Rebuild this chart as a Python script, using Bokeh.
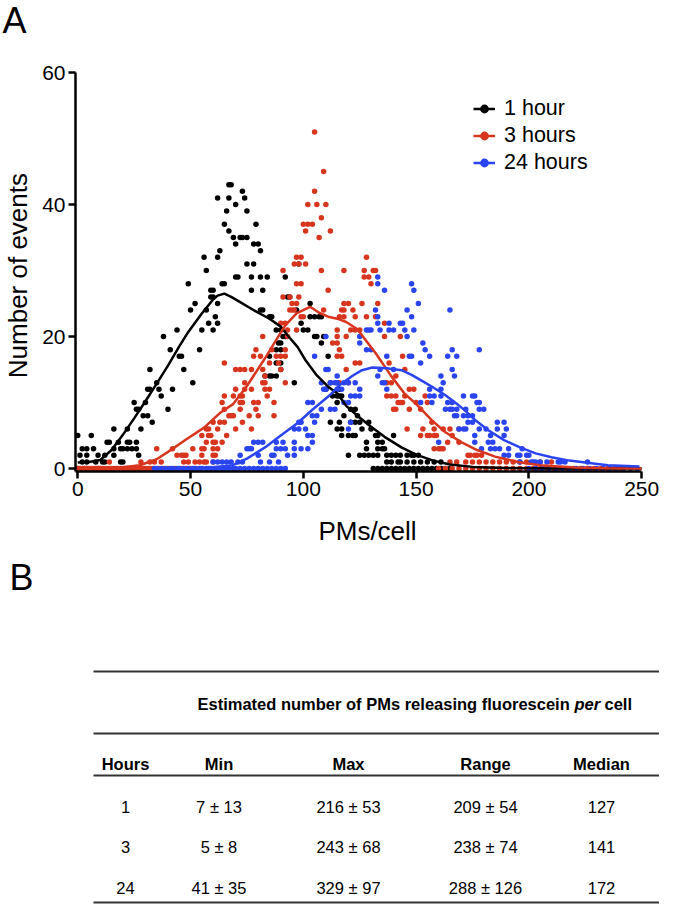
from bokeh.plotting import figure
from bokeh.models import Range1d, Legend, LegendItem, FixedTicker
from bokeh.embed import file_html
from bokeh.resources import INLINE
from bokeh.core.properties import value

FONT = "Liberation Sans"
BLACK = "#000000"
RED = "#D8351F"
BLUE = "#2A44F0"

# ---------------- data: panel A ----------------
series_names = ["1 hour", "3 hours", "24 hours"]
x_ticks = [0, 50, 100, 150, 200, 250]
y_ticks = [0, 20, 40, 60]

black_points = [
    (0, 5), (6, 5), (2, 3), (4, 3), (7, 3), (16, 3), (19, 3), (20, 3), (22, 3), (24, 3), (26, 3),
    (13, 4), (14, 4), (18, 4), (22, 4), (23, 4), (26, 4),
    (1, 2), (4, 2), (9, 2), (12, 2), (16, 2), (27, 2),
    (2, 1), (4, 1), (8, 1), (11, 1), (12, 1), (19, 1), (20, 1),
    (16, 6), (22, 6), (28, 6),
    (25, 10), (26, 9), (27, 9), (29, 8), (31, 8), (30, 10), (31, 12), (32, 12), (32, 15), (33, 7),
    (35, 13), (36, 12), (37, 11), (38, 20), (40, 9), (41, 18), (42, 12), (44, 21), (45, 17), (46, 17),
    (47, 15), (49, 28), (50, 24), (51, 13), (52, 25), (54, 18), (55, 21), (56, 32), (57, 30), (57, 24),
    (58, 22), (59, 27), (60, 27), (59, 26), (60, 26), (60, 21), (61, 23), (62, 22), (62, 25), (62, 41),
    (62, 32), (63, 33), (64, 28), (65, 37), (66, 39), (67, 43), (68, 43), (67, 41), (70, 40), (67, 36),
    (69, 35), (72, 35), (73, 35), (75, 35), (70, 34), (73, 42), (74, 41), (75, 39), (79, 37), (78, 34),
    (80, 34), (81, 33), (75, 31), (78, 31), (65, 28), (71, 29), (70, 29), (77, 29), (81, 29), (84, 29),
    (77, 27), (82, 27), (81, 24), (82, 24), (85, 23), (86, 23), (88, 21), (90, 21), (91, 20), (92, 20),
    (89, 19), (90, 19), (88, 18), (90, 18), (85, 17), (88, 16), (90, 16), (90, 15), (83, 14), (85, 14),
    (86, 14), (88, 14), (96, 13), (92, 29), (93, 26), (94, 26), (97, 24), (98, 31), (99, 22), (100, 21),
    (102, 21), (103, 25), (103, 23), (105, 23), (105, 20), (106, 20), (107, 23), (108, 23), (108, 19),
    (109, 20), (111, 17), (112, 13), (110, 12), (113, 11), (115, 11), (116, 11), (117, 11), (112, 7),
    (115, 6), (117, 6), (117, 5), (115, 13), (116, 12), (115, 10), (118, 8), (116, 7), (121, 9), (123, 9),
    (124, 8), (121, 7), (123, 7), (125, 7), (129, 7), (120, 5), (122, 5), (123, 5), (126, 6), (130, 6),
    (132, 5), (133, 5), (140, 5), (128, 4), (133, 4), (135, 4), (128, 3), (133, 3), (135, 3), (136, 3),
    (120, 2), (125, 2), (127, 2), (129, 2), (131, 2), (133, 2), (137, 2), (139, 2), (141, 2), (143, 2),
    (146, 2), (148, 2), (149, 2), (151, 2),
    (137, 1), (139, 1), (142, 1), (143, 1), (146, 1), (149, 1), (152, 1), (155, 1), (158, 1), (161, 1),
]
black_zero_x = [0, 3, 4, 9, 10, 131, 133, 135, 137, 139, 141, 143, 145, 147, 149, 151, 153, 155,
                157, 159, 161, 163, 165]

red_points = [
    (14, 1), (28, 1), (32, 1), (34, 1), (37, 1), (35, 3), (42, 3), (44, 2), (46, 2), (47, 2), (48, 2),
    (47, 1), (49, 1), (52, 1), (54, 1), (56, 1), (57, 1), (60, 1), (51, 3), (55, 3), (56, 3), (59, 5),
    (60, 4), (61, 4), (62, 3), (58, 6), (62, 6), (60, 7), (63, 7), (57, 6), (55, 5), (58, 5), (57, 4),
    (60, 3), (55, 2), (60, 2), (61, 2),
    (65, 16), (70, 15), (72, 15), (74, 15), (77, 15), (82, 15), (90, 15), (83, 14), (74, 13), (82, 13),
    (83, 13), (92, 13), (70, 12), (74, 12), (77, 12), (83, 12), (85, 12), (65, 11), (69, 11), (72, 11),
    (73, 11), (84, 11), (64, 10), (72, 10), (73, 10), (78, 10), (80, 10), (87, 10), (65, 9), (72, 9),
    (79, 9), (67, 8), (68, 8), (69, 8), (76, 8), (80, 8), (87, 8), (65, 7), (73, 7), (70, 6), (77, 6),
    (66, 5), (64, 4),
    (79, 18), (86, 18), (92, 18), (78, 17), (81, 17), (88, 17), (90, 17), (92, 17), (85, 16), (89, 16),
    (82, 20), (93, 20), (90, 22), (92, 22), (93, 21), (97, 21), (91, 30), (91, 26), (94, 24), (95, 24),
    (96, 24), (95, 25), (97, 25), (94, 26), (98, 26), (99, 23), (100, 23), (97, 28), (99, 28), (97, 32),
    (99, 32), (96, 31), (98, 31), (101, 31), (100, 37), (102, 37), (104, 37), (101, 36), (102, 40),
    (106, 40), (110, 40), (105, 42), (109, 45), (105, 51), (108, 38), (107, 35), (112, 36), (108, 30),
    (111, 27), (109, 24), (115, 21), (113, 19),
    (128, 32), (127, 30), (131, 30), (132, 30), (118, 30), (127, 29), (129, 29), (130, 28), (133, 25),
    (120, 25), (126, 25), (118, 25), (117, 24), (122, 24), (118, 24), (116, 23), (118, 23), (123, 23),
    (128, 23), (132, 23), (121, 21), (123, 21), (125, 21), (136, 22), (115, 20), (119, 20), (136, 20),
    (143, 20), (115, 19), (116, 18), (115, 17), (117, 17), (123, 16), (125, 16), (138, 16), (144, 17),
    (119, 15), (145, 15), (116, 13), (120, 13), (137, 13), (139, 13), (141, 14), (137, 11), (139, 11),
    (141, 11), (142, 10), (145, 11), (147, 12), (149, 12), (140, 9), (141, 9), (143, 10), (144, 10),
    (147, 9), (152, 9), (150, 10), (154, 11), (155, 10), (157, 7), (158, 6), (146, 6), (155, 5), (156, 5),
    (158, 5), (159, 5), (152, 5), (153, 6), (162, 6), (165, 6), (169, 6), (166, 5), (164, 4), (169, 4),
    (158, 3), (160, 3), (161, 3), (162, 3), (173, 2), (174, 2), (176, 2), (177, 2), (179, 2),
    (165, 1), (168, 1), (172, 1), (175, 1), (178, 1), (181, 1), (184, 1), (187, 1), (190, 1), (193, 1),
    (196, 1), (199, 1), (205, 1), (210, 1),
]
red_zero_x = [0, 1, 2, 3, 4, 5, 6, 7, 8, 9, 10, 11, 12, 13, 14, 15, 16, 17, 18, 19, 20, 21, 22, 23, 24,
              25, 26, 27, 28, 29, 30, 31, 32, 33, 36, 38, 40, 43, 46, 48, 50, 53,
              160, 163, 166, 169, 172, 175, 178, 181, 184, 187, 190, 193, 196, 199, 202, 205, 208,
              211, 214, 217, 220, 223, 226, 229, 232, 235, 238, 241]

blue_points = [
    (60, 1), (62, 1), (64, 1), (66, 1), (68, 1), (71, 1), (73, 1), (81, 1), (85, 1), (89, 1),
    (72, 2), (80, 2), (86, 2), (87, 2), (93, 2), (96, 2),
    (75, 3), (76, 3), (77, 3), (88, 3), (90, 3), (92, 3), (96, 3), (99, 3), (102, 3),
    (78, 4), (80, 4), (82, 4), (88, 4), (91, 4), (96, 4), (104, 4),
    (102, 5), (104, 5), (96, 6), (98, 6), (101, 6), (98, 7), (99, 7), (105, 7), (104, 8), (106, 8),
    (108, 9), (112, 9), (114, 9), (102, 10), (104, 10),
    (108, 13), (112, 13), (114, 13), (115, 13), (109, 12), (110, 12), (117, 12), (110, 15), (111, 15),
    (105, 17), (110, 20),
    (133, 29), (133, 28), (136, 27), (148, 28), (149, 27), (151, 25), (146, 24), (148, 23), (165, 24),
    (132, 24), (133, 23),
    (128, 21), (129, 21), (130, 21), (134, 21), (138, 21), (140, 21), (145, 21), (149, 21), (133, 22),
    (138, 22), (143, 22), (144, 22),
    (125, 20), (125, 19), (128, 18), (130, 18), (146, 20), (153, 19), (154, 18), (156, 17), (147, 17),
    (148, 17), (152, 16), (164, 17), (166, 18), (168, 17), (178, 18), (137, 17),
    (115, 14), (118, 13), (120, 13), (123, 13), (115, 12), (125, 12), (133, 14), (134, 15), (140, 15),
    (135, 13), (136, 13), (137, 12), (161, 14), (162, 13), (166, 15), (167, 14),
    (156, 11), (158, 11), (161, 11), (161, 12), (152, 10), (157, 10), (164, 10), (166, 10), (156, 12),
    (171, 11), (175, 11), (177, 10),
    (163, 9), (165, 9), (166, 9), (168, 9), (172, 9), (171, 8), (173, 8), (167, 8), (168, 8), (173, 7),
    (175, 7), (169, 6), (171, 6), (172, 6), (178, 6), (160, 4), (176, 5), (176, 4),
    (125, 11), (121, 7), (120, 6), (118, 10), (120, 10), (121, 11), (123, 11),
    (176, 11), (178, 10), (178, 9), (180, 9), (175, 8), (181, 6), (186, 7), (189, 7), (186, 6), (190, 6),
    (189, 5), (183, 5), (182, 4), (184, 4),
    (183, 3), (185, 3), (187, 3), (191, 3), (197, 3), (179, 3),
    (189, 2), (191, 2), (195, 2), (196, 2), (199, 2), (200, 2),
    (196, 1), (201, 1), (202, 1), (203, 1), (205, 1), (208, 1), (213, 1), (214, 1), (216, 1), (226, 1),
]
blue_zero_x = [34, 35, 37, 39, 41, 42, 44, 45, 47, 49, 51, 52, 54, 55, 57, 58, 59, 61, 62, 64, 65, 67,
               69, 70, 72, 74, 76, 78, 80, 82, 84, 86, 88, 90, 92,
               200, 203, 206, 209, 212, 215, 218, 221, 224, 227, 230, 233, 236, 239, 242, 245, 248]

black_fit = [(0, 0.9), (5, 1.0), (10, 1.3), (15, 2.8), (20, 5.1), (25, 7.6), (30, 10.2), (34.5, 12.6),
             (40, 15.6), (45, 18.5), (49, 20.7), (55, 23.5), (60, 25.6), (62, 26.2), (65, 26.5),
             (68, 26.0), (72, 25.2), (76, 24.4), (80, 23.6), (85, 22.7), (90, 21.5), (93, 20.2),
             (97.5, 18.4), (101, 16.4), (106, 14.1), (111, 12.4), (115, 11.4), (119, 9.5), (124, 8.0),
             (129, 6.6), (136, 4.8), (143.5, 3.2), (150, 2.1), (157.6, 1.2), (165, 0.6), (175, 0.25),
             (190, 0.08), (210, 0.02), (250, 0.0)]
red_fit = [(0, 0.0), (10, 0.05), (20, 0.2), (27.5, 0.5), (35, 1.4), (41.7, 2.9), (48, 4.4), (56, 6.2),
           (63, 8.4), (69, 9.8), (75, 12.5), (83, 16.7), (88, 19.5), (92, 21.7), (97, 23.5), (103, 24.5),
           (107, 23.6), (111, 23.0), (115, 22.7), (119, 22.2), (124, 21.1), (128, 19.3), (132, 17.5),
           (139, 14.0), (145, 11.3), (150, 9.8), (157, 7.3), (163, 5.5), (170, 4.0), (177, 2.8),
           (185, 1.8), (195, 1.0), (205, 0.5), (220, 0.15), (235, 0.04), (250, 0.0)]
blue_fit = [(35, 0.0), (50, 0.05), (60, 0.2), (68.7, 0.5), (75, 1.5), (83, 3.2), (90, 5.0), (97.5, 6.9),
            (104, 8.9), (111.7, 11.1), (116, 12.6), (122, 14.1), (126, 14.9), (130.6, 15.3),
            (137, 15.2), (143.5, 14.9), (148, 14.2), (153, 13.2), (158, 12.2), (163, 11.1), (168, 9.8),
            (172, 8.7), (176, 7.4), (182, 5.8), (189, 4.3), (196, 3.2), (203, 2.3), (210, 1.7),
            (218, 1.2), (225, 0.9), (235, 0.5), (249, 0.3)]

# ---------------- data: panel B (table) ----------------
panel_letters = ["A", "B"]
table_title = "Estimated number of PMs releasing fluorescein"
table_title_italic = "per"
table_title_end = "cell"
headers = ["Hours", "Min", "Max", "Range", "Median"]
hours = ["1", "3", "24"]
mins = ["7 ± 13", "5 ± 8", "41 ± 35"]
maxs = ["216 ± 53", "243 ± 68", "329 ± 97"]
ranges = ["209 ± 54", "238 ± 74", "288 ± 126"]
medians = ["127", "141", "172"]

# ---------------- layout constants ----------------
W = 659
H_STRIP = 40          # strip holding the "A" letter: page y 0..40
H_CHART = 508         # chart: page y 40..548
H_TABLE = 904 - H_STRIP - H_CHART   # table: page y 548..904
LEFT = 72             # chart frame left

# ---------------- strip with panel letter A ----------------
s = figure(width=W, height=H_STRIP, x_range=Range1d(0, W), y_range=Range1d(H_STRIP, 0),
           output_backend="svg", toolbar_location=None, x_axis_type=None, y_axis_type=None,
           min_border=0, min_border_left=0, min_border_right=0, min_border_top=0, min_border_bottom=0)
s.grid.visible = False
s.outline_line_color = None
s.text(x=[2], y=[19.5], text=[panel_letters[0]], text_font=value(FONT), text_font_size="36px",
       text_baseline="middle", text_align="left", text_color="black")

# ---------------- panel A chart ----------------
p = figure(width=W, height=H_CHART, x_range=Range1d(-1.0, 257.9), y_range=Range1d(-0.45, 60.0),
           output_backend="svg", toolbar_location=None,
           min_border_left=LEFT, min_border_right=0, min_border_top=72 - H_STRIP,
           min_border_bottom=H_STRIP + H_CHART - 471)
p.grid.visible = False
p.outline_line_color = None

series = [
    (black_points, black_zero_x, black_fit, BLACK),
    (red_points, red_zero_x, red_fit, RED),
    (blue_points, blue_zero_x, blue_fit, BLUE),
]
scat = []
for pts, zx, fit, col in series:
    xs = [a for a, b in pts] + zx
    ys = [b for a, b in pts] + [0] * len(zx)
    scat.append(p.scatter(xs, ys, size=5.5, color=col, line_width=0))
lines = []
for pts, zx, fit, col in series:
    lines.append(p.line([a for a, b in fit], [b for a, b in fit], line_width=2.5, color=col))

for ax in (p.xaxis[0], p.yaxis[0]):
    ax.axis_line_width = 2.5
    ax.axis_line_color = "black"
    ax.major_tick_line_width = 2.5
    ax.major_tick_line_color = "black"
    ax.major_tick_out = 7
    ax.major_tick_in = 0
    ax.minor_tick_out = 0
    ax.minor_tick_in = 0
    ax.major_label_text_font = FONT
    ax.major_label_text_font_size = "21px"
    ax.major_label_text_color = "black"
    ax.major_label_standoff = 3
    ax.axis_label_text_font = FONT
    ax.axis_label_text_font_size = "26px"
    ax.axis_label_text_font_style = "normal"
    ax.axis_label_text_color = "black"
p.xaxis.ticker = FixedTicker(ticks=x_ticks)
p.yaxis.ticker = FixedTicker(ticks=y_ticks)
p.xaxis.bounds = (-1.0, 250)
p.yaxis.bounds = (-0.45, 60)
p.xaxis.axis_label = "PMs/cell"
p.yaxis.axis_label = "Number  of events"
p.xaxis.axis_label_standoff = 17
p.yaxis.axis_label_standoff = 6

legend = Legend(
    items=[LegendItem(label=n, renderers=[l, sc]) for n, l, sc in zip(series_names, lines, scat)],
    location=(470 - LEFT, 471 - 175.5), orientation="vertical",
    label_text_font=FONT, label_text_font_size="21.5px", label_text_color="black",
    glyph_width=22, glyph_height=27, label_height=27, label_standoff=9,
    spacing=0, padding=0, margin=0, border_line_color=None, background_fill_alpha=0,
)
p.add_layout(legend)

# ---------------- panel B (table) ----------------
top_b = H_STRIP + H_CHART
t = figure(width=W, height=H_TABLE, x_range=Range1d(0, W), y_range=Range1d(top_b + H_TABLE, top_b),
           output_backend="svg", toolbar_location=None, x_axis_type=None, y_axis_type=None,
           min_border=0, min_border_left=0, min_border_right=0, min_border_top=0, min_border_bottom=0)
t.grid.visible = False
t.outline_line_color = None

t.text(x=[9], y=[576.5], text=[panel_letters[1]], text_font=value(FONT), text_font_size="36px",
       text_baseline="middle", text_align="left", text_color="black")

rule_y = [671, 733, 775, 902]
t.segment(x0=[93] * 4, x1=[668] * 4, y0=rule_y, y1=rule_y, line_width=2, line_color="#333333")

title_x = 197
per_x = 574
cell_x = 604
t.text(x=[title_x], y=[703], text=[table_title], text_font=value(FONT), text_font_size="16.5px",
       text_font_style="bold", text_baseline="middle", text_align="left", text_color="black")
t.text(x=[per_x], y=[703], text=[table_title_italic], text_font=value(FONT),
       text_font_size="16.5px", text_font_style="bold italic", text_baseline="middle",
       text_align="left", text_color="black")
t.text(x=[cell_x], y=[703], text=[table_title_end], text_font=value(FONT),
       text_font_size="16.5px", text_font_style="bold", text_baseline="middle", text_align="left",
       text_color="black")

col_x = [125, 218.5, 348, 485, 601]
t.text(x=col_x, y=[763] * 5, text=headers, text_font=value(FONT), text_font_size="16.5px",
       text_font_style="bold", text_baseline="middle", text_align="center", text_color="black")
row_y = [806, 846, 887]
for cx, vals in zip(col_x, [hours, mins, maxs, ranges, medians]):
    t.text(x=[cx] * 3, y=row_y, text=vals, text_font=value(FONT), text_font_size="16.5px",
           text_baseline="middle", text_align="center", text_color="black")

open("out.html", "w").write(file_html([s, p, t], INLINE))
